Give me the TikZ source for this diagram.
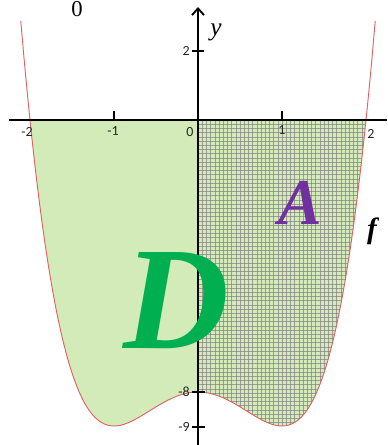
\documentclass[tikz,border=0pt]{standalone}
\usepackage{fontspec}
\setmainfont{Liberation Serif}
\newfontfamily\tickfont{Carlito}
\usetikzlibrary{arrows.meta}
\definecolor{fillgreen}{RGB}{211,235,184}
\definecolor{curvered}{RGB}{222,100,100}
\definecolor{gridcol}{RGB}{120,110,125}
\definecolor{dgreen}{RGB}{0,176,80}
\definecolor{apurple}{RGB}{112,48,160}
\tikzset{
  ticklab/.style={font=\tickfont\fontsize{10.5}{11}\selectfont, inner sep=0pt, text=black!85},
  axisline/.style={line width=1.7pt, black},
  tickmark/.style={line width=1.3pt, black},
  gridline/.style={gridcol, line width=0.4pt, opacity=0.6},
  bigletter/.style={inner sep=0pt, font=\bfseries\itshape},
}
\begin{document}
\begin{tikzpicture}[x=0.75pt,y=-0.75pt]
\useasboundingbox (0,0) rectangle (387,445);
% filled regions
\fill[fillgreen] (198,120) -- plot[domain=-2:0,samples=80,smooth] ({198+84*\x},{120-34*(\x*\x*\x*\x-2*\x*\x-8)}) -- cycle;
\fill[fillgreen] (198,120) -- plot[domain=0:2,samples=80,smooth] ({198+84*\x},{120-34*(\x*\x*\x*\x-2*\x*\x-8)}) -- cycle;
\begin{scope}
\clip (198,120) -- plot[domain=0:2,samples=80,smooth] ({198+84*\x},{120-34*(\x*\x*\x*\x-2*\x*\x-8)}) -- cycle;
\foreach \i in {0,...,41} {\draw[gridline] ({198+4.2*\i},118) -- ({198+4.2*\i},440);}
\foreach \j in {0,...,76} {\draw[gridline] (196,{120+4.2*\j}) -- (370,{120+4.2*\j});}
\end{scope}
% curve
\draw[curvered,line width=0.7pt] plot[domain=-2.11:2.11,samples=120,smooth] ({198+84*\x},{120-34*(\x*\x*\x*\x-2*\x*\x-8)});
% axes
\coordinate (xl) at (9,120);
\coordinate (xr) at (387,120);
\coordinate (yb) at (198,445);
\coordinate (yt) at (198,7);
\draw[axisline] (xl) -- (xr);
\draw[axisline,-{Straight Barb[length=5pt,width=9pt,line width=1.4pt]}] (yb) -- (yt);
% ticks
\draw[tickmark] (114,111) -- (114,120);
\draw[tickmark] (282,111) -- (282,120);
\draw[tickmark] (192,51) -- (204,51);
\draw[tickmark] (192,392) -- (205,392);
\draw[tickmark] (192,427) -- (205,427);
% tick labels
\node[ticklab] (lm2) at (27,132) {-2};
\node[ticklab] (lm1) at (113,131) {-1};
\node[ticklab] (l0) at (190,132) {0};
\node[ticklab] (l1) at (282,130) {1};
\node[ticklab] (l2) at (371,134) {2};
\node[ticklab,anchor=east] (ly2) at (190,51) {2};
\node[ticklab,anchor=east] (lym8) at (190,392) {-8};
\node[ticklab,anchor=east] (lym9) at (190,427) {-9};
% other labels
\node[inner sep=0pt,font=\fontsize{17}{18}\selectfont] (top0) at (77,9) {0};
\node[inner sep=0pt,font=\itshape\fontsize{19}{20}\selectfont] (ylab) at (216,32) {y};
\node[bigletter,text=apurple,font=\bfseries\itshape\fontsize{49}{50}\selectfont] (A) at (300,203) {A};
\node[bigletter,font=\bfseries\itshape\fontsize{22}{24}\selectfont] (f) at (372,231) {f};
\node[bigletter,text=dgreen,font=\bfseries\itshape\fontsize{110}{112}\selectfont] (D) at (176,301) {D};
\end{tikzpicture}
\end{document}
